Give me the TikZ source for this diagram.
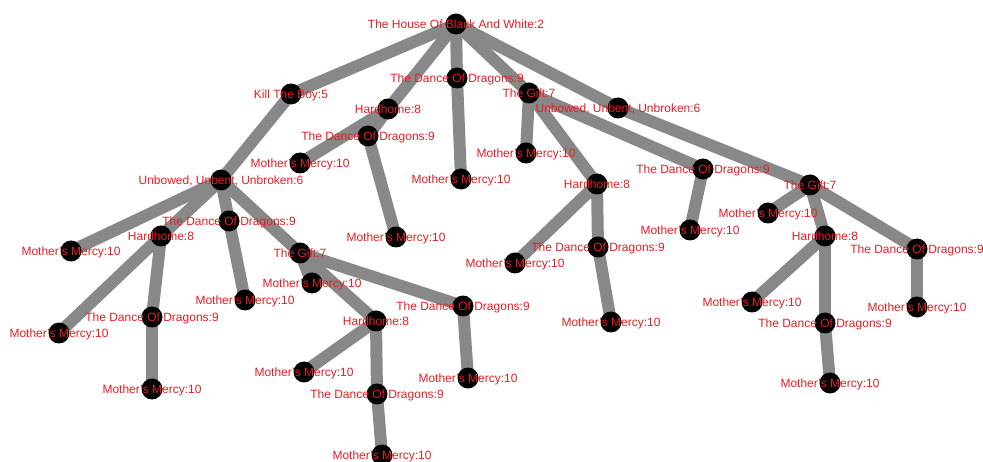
\documentclass[tikz,border=0pt]{standalone}
\usepackage{fontspec}
\setmainfont{Liberation Sans}
\usepackage{xcolor}
\usetikzlibrary{backgrounds}

\definecolor{edgegray}{RGB}{136,136,136}
\definecolor{lblred}{RGB}{232,28,36}

\tikzset{
  epdot/.style={circle, fill=black, inner sep=0pt, minimum size=21pt},
  eplink/.style={draw=edgegray, line width=12pt},
  eplbl/.style={text=lblred, inner sep=0pt, anchor=base, yshift=-4.3pt,
    font=\fontsize{12}{14}\selectfont}
}

% name / x / y / title
\def\episodes{root/456/24/{The House Of Black And White:2},
  kb/291/94/{Kill The Boy:5}, dd1/457/78/{The Dance Of Dragons:9},
  gf1/529/93/{The Gift:7}, ub1/618/108/{Unbowed, Unbent, Unbroken:6},
  hh1/388/109/{Hardhome:8}, dd2/368/136/{The Dance Of Dragons:9},
  mm1/300/163/{Mother's Mercy:10}, mm2/396/237/{Mother's Mercy:10},
  mm3/461/179/{Mother's Mercy:10},
  mm4/526/153/{Mother's Mercy:10}, hh2/597/184/{Hardhome:8},
  dd3/703/169/{The Dance Of Dragons:9},
  mm5/515/263/{Mother's Mercy:10}, dd4/598/247/{The Dance Of Dragons:9},
  mm6/611/322/{Mother's Mercy:10}, mm7/690/230/{Mother's Mercy:10},
  gf2/810/185/{The Gift:7},
  mm8/768/213/{Mother's Mercy:10}, hh3/825/236/{Hardhome:8},
  dd5/917/249/{The Dance Of Dragons:9},
  mm9/752/302/{Mother's Mercy:10}, dd6/825/323/{The Dance Of Dragons:9},
  mm10/830/383/{Mother's Mercy:10}, mm11/917/307/{Mother's Mercy:10},
  ub2/221/180/{Unbowed, Unbent, Unbroken:6},
  mm12/71/251/{Mother's Mercy:10}, hh4/161/236/{Hardhome:8},
  dd7/229/221/{The Dance Of Dragons:9}, gf3/300/253/{The Gift:7},
  mm13/59/333/{Mother's Mercy:10}, dd8/152/317/{The Dance Of Dragons:9},
  mm14/152/389/{Mother's Mercy:10}, mm15/245/300/{Mother's Mercy:10},
  mm16/312/283/{Mother's Mercy:10}, hh5/376/321/{Hardhome:8},
  dd9/463/306/{The Dance Of Dragons:9},
  mm17/304/372/{Mother's Mercy:10}, dd10/377/394/{The Dance Of Dragons:9},
  mm18/382/455/{Mother's Mercy:10}, mm19/468/378/{Mother's Mercy:10}}

\begin{document}
\begin{tikzpicture}[x=1pt, y=-1pt]
  \useasboundingbox (0,0) rectangle (983,462);
  % the episode dots
  \foreach \n/\x/\y/\t in \episodes
    \node[epdot] (\n) at (\x,\y) {};
  % links, kept under the dots
  \begin{scope}[on background layer]
    \foreach \a/\b in {root/kb, root/dd1, root/gf1, root/ub1, root/hh1,
        hh1/mm1, hh1/dd2, dd2/mm2, dd1/mm3,
        gf1/mm4, gf1/hh2, gf1/dd3, hh2/mm5, hh2/dd4, dd4/mm6, dd3/mm7,
        ub1/gf2, gf2/mm8, gf2/hh3, gf2/dd5, hh3/mm9, hh3/dd6, dd6/mm10, dd5/mm11,
        kb/ub2, ub2/mm12, ub2/hh4, ub2/dd7, ub2/gf3, hh4/mm13, hh4/dd8, dd8/mm14,
        dd7/mm15, gf3/mm16, gf3/hh5, gf3/dd9, hh5/mm17, hh5/dd10, dd10/mm18, dd9/mm19}
      \draw[eplink] (\a.center) -- (\b.center);
  \end{scope}
  % titles on top of everything
  \foreach \n/\x/\y/\t in \episodes
    \node[eplbl] (\n-t) at (\n.center) {\t};
\end{tikzpicture}
\end{document}
